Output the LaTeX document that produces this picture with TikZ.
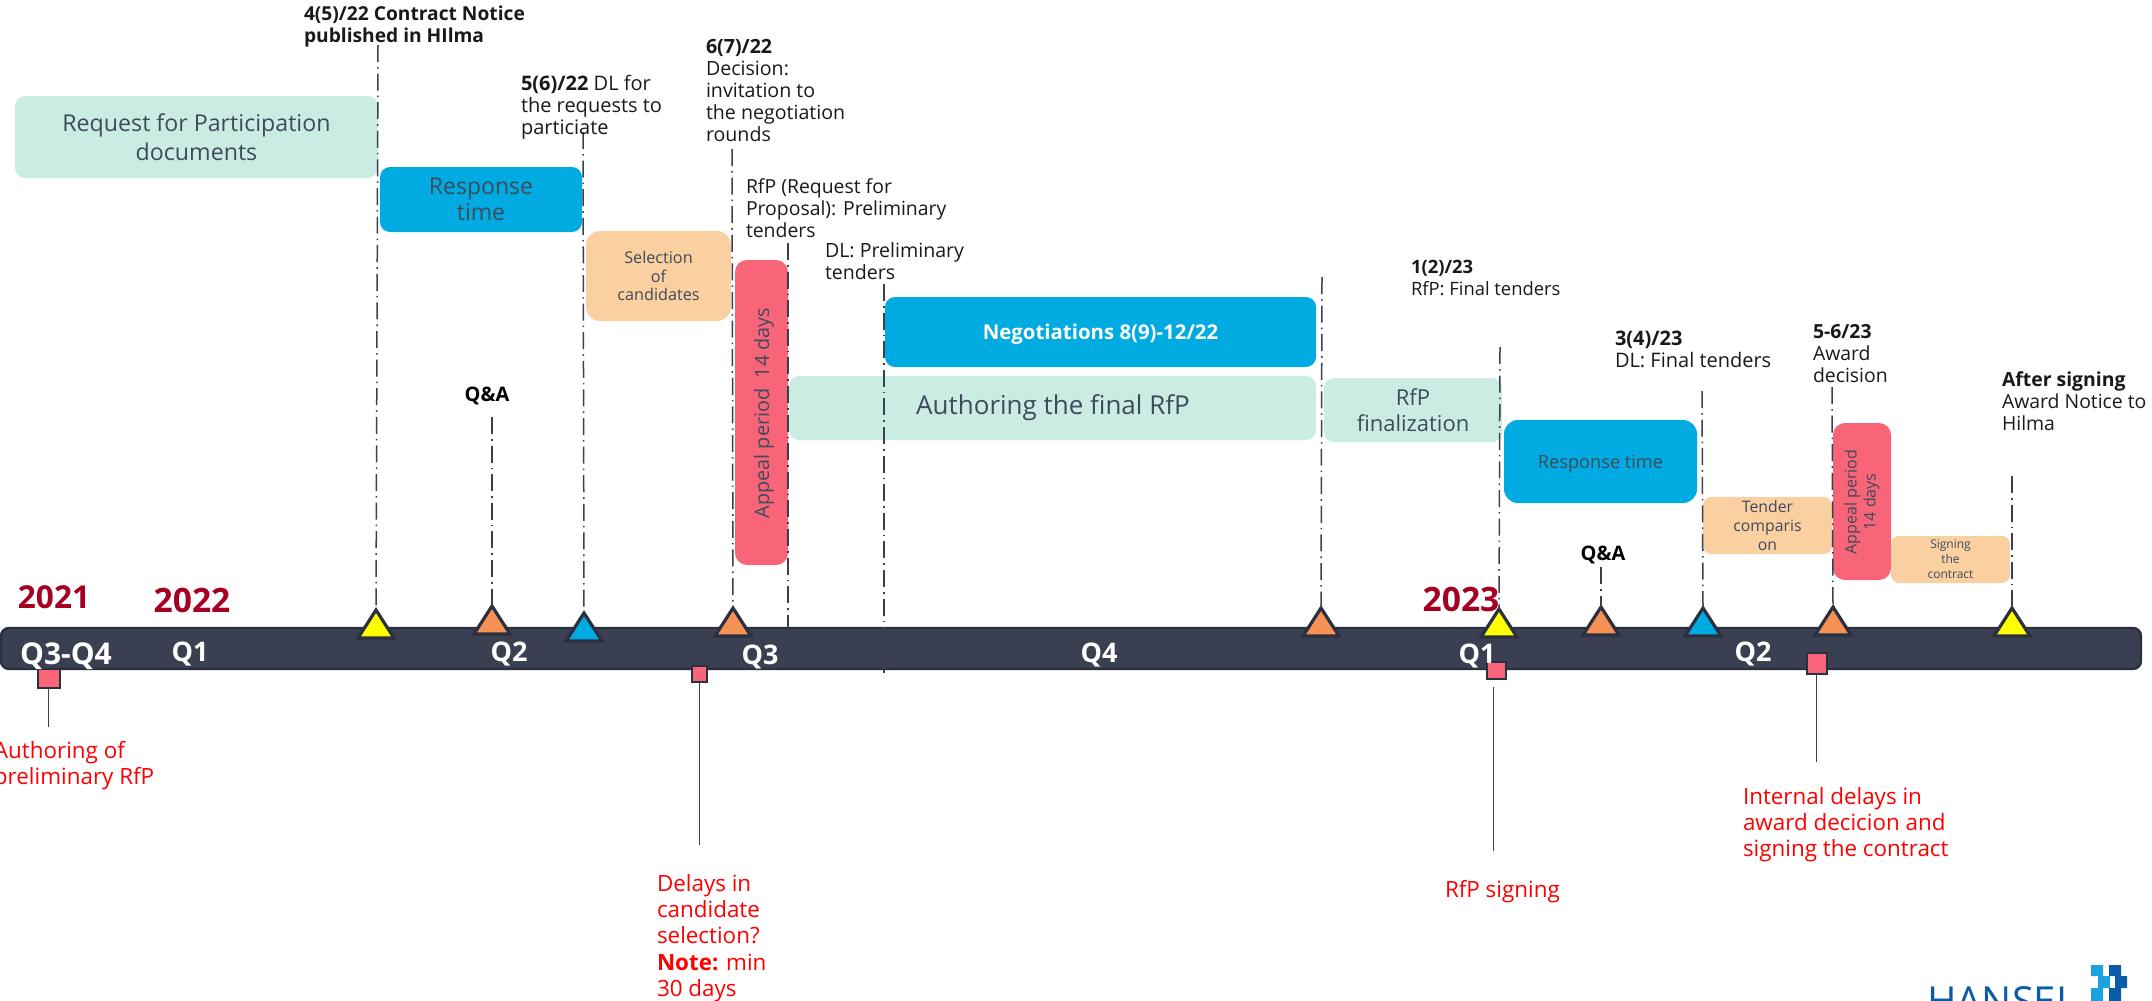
\documentclass[tikz,border=0pt]{standalone}
\usepackage{fontspec}
\setmainfont{Open Sans}
\usetikzlibrary{shapes.geometric}
\definecolor{barc}{HTML}{3A4052}
\definecolor{barb}{HTML}{2B3040}
\definecolor{mintc}{HTML}{CBECE2}
\definecolor{bluec}{HTML}{00ABE1}
\definecolor{peachc}{HTML}{FBD0A0}
\definecolor{pinkc}{HTML}{F86478}
\definecolor{orangec}{HTML}{F79256}
\definecolor{yellowc}{HTML}{FFFF00}
\definecolor{boxtext}{HTML}{3F4A5C}
\definecolor{yearc}{HTML}{A50021}
\definecolor{logod}{HTML}{0B5CA8}
\definecolor{logol}{HTML}{1BA3E0}
\tikzset{
  tl/.style={inner sep=0pt,outer sep=0pt},
  rbox/.style={tl,align=center,text=boxtext,rounded corners=5pt},
  mintbox/.style={rbox,fill=mintc},
  bluebox/.style={rbox,fill=bluec},
  peachbox/.style={rbox,fill=peachc,rounded corners=7pt},
  pinkbox/.style={rbox,fill=pinkc,rounded corners=6pt},
  mile/.style={draw=barc,line width=0.75pt,dash pattern=on 8.5pt off 2.5pt on 0.8pt off 2.5pt},
  tri/.style={isosceles triangle,isosceles triangle apex angle=70,shape border rotate=90,draw=barb,line width=1.6pt,inner sep=0pt,outer sep=0pt,anchor=apex,minimum height=14pt,minimum width=18pt,isosceles triangle stretches},
  sq/.style={draw=barb,line width=1.2pt,fill=pinkc,inner sep=0pt,outer sep=0pt},
  stem/.style={draw=barc,line width=0.5pt},
  toplabel/.style={tl,align=left,anchor=north west,font=\fontsize{#1}{11}\selectfont,text=black!90},
  redlabel/.style={tl,align=left,anchor=north west,font=\fontsize{11.2}{13.2}\selectfont,text=red},
  year/.style={tl,font=\bfseries\fontsize{#1}{#1}\selectfont,text=yearc},
  qlabel/.style={tl,font=\bfseries\fontsize{#1}{#1}\selectfont,text=white},
  qa/.style={tl,font=\bfseries\fontsize{10}{10}\selectfont,text=black},
}
\newcommand{\pbox}[7]{\node[#2,minimum width={(#5-#3)*0.5pt},minimum height={(#6-#4)*0.5pt}] (#1) at ({(#3+#5)/2},{(#4+#6)/2}) {#7};}
\begin{document}
\begin{tikzpicture}[x=0.5pt,y=-0.5pt]
\useasboundingbox (0,0) rectangle (2152,1001);
% bar
\pbox{bar}{tl,fill=barc,draw=barb,line width=1.2pt,rounded corners=4pt}{1}{628}{2141}{669}{}
% boxes
\pbox{req}{mintbox,font=\fontsize{11.6}{14.5}\selectfont}{15}{96}{378}{178}{Request for Participation\\documents}
\pbox{resp}{bluebox,font=\fontsize{11.5}{13}\selectfont}{380}{167}{582}{232}{Response\\time}
\pbox{sel}{peachbox,font=\fontsize{8.1}{9.4}\selectfont}{586}{231}{731}{321}{Selection\\of\\candidates}
\pbox{app}{pinkbox}{735}{260}{788}{565}{}
\pbox{neg}{bluebox,text=white,text depth=0pt,font=\bfseries\fontsize{10.2}{11}\selectfont}{885}{297}{1316}{367}{Negotiations 8(9)-12/22}
\pbox{auth}{mintbox}{789}{376}{1316}{440}{}
\pbox{final}{mintbox,font=\fontsize{11}{13.3}\selectfont}{1324}{378}{1502}{442}{RfP\\finalization}
\pbox{resp2}{bluebox,rounded corners=7pt,text depth=0pt,font=\fontsize{9.1}{10}\selectfont}{1504}{420}{1697}{503}{Response time}
\pbox{tender}{peachbox,rounded corners=4pt,font=\fontsize{7.9}{9.4}\selectfont}{1703}{497}{1832}{554}{Tender\\comparis\\on}
\pbox{app2}{pinkbox}{1833}{423}{1891}{580}{}
\pbox{sign}{peachbox,rounded corners=4pt,font=\fontsize{6}{7.5}\selectfont}{1891}{536}{2010}{583}{Signing\\the\\contract}
% triangles
\node[tri,fill=yellowc] (t1) at (376,610) {};
\node[tri,fill=orangec] (t2) at (492,606) {};
\node[tri,fill=bluec] (t3) at (584,613) {};
\node[tri,fill=orangec] (t4) at (733,608) {};
\node[tri,fill=orangec] (t5) at (1321,608) {};
\node[tri,fill=yellowc] (t6) at (1499,609) {};
\node[tri,fill=orangec] (t7) at (1601,607) {};
\node[tri,fill=bluec] (t8) at (1703,608) {};
\node[tri,fill=orangec] (t9) at (1833,607) {};
\node[tri,fill=yellowc] (t10) at (2012,608) {};
% milestone lines
\coordinate (m1) at (378,45);
\coordinate (m2) at (492,417);
\coordinate (m3) at (583,132);
\coordinate (m4) at (732,149);
\coordinate (m5) at (788,243);
\coordinate (m5b) at (788,628);
\coordinate (m6) at (884,284);
\coordinate (m6b) at (884,673);
\coordinate (m7) at (1322,277);
\coordinate (m8) at (1500,347);
\coordinate (m9) at (1601,567);
\coordinate (m10) at (1702,391);
\coordinate (m11) at (1832,387);
\coordinate (m12) at (2012,476);
\draw[mile] (m1) -- (t1.apex);
\draw[mile] (m2) -- (t2.apex);
\draw[mile] (m3) -- (t3.apex);
\draw[mile] (m4) -- (t4.apex);
\draw[mile] (m5) -- (m5b);
\draw[mile] (m6) -- (m6b);
\draw[mile] (m7) -- (t5.apex);
\draw[mile] (m8) -- (t6.apex);
\draw[mile] (m9) -- (t7.apex);
\draw[mile] (m10) -- (t8.apex);
\draw[mile] (m11) -- (t9.apex);
\draw[mile] (m12) -- (t10.apex);
% box texts drawn over the lines
\node[tl,rotate=90,text=boxtext,font=\fontsize{9.9}{11}\selectfont] (appt) at (764,413) {Appeal period\ \ 14 days};
\node[tl,rotate=90,text=boxtext,align=center,font=\fontsize{8}{9.5}\selectfont] (app2t) at (1862,502) {Appeal period\\14 days};
\node[tl,text=boxtext,font=\fontsize{13}{14}\selectfont] (autht) at (1053,408) {Authoring the final RfP};
% pink squares
\pbox{s1}{sq}{38}{669}{60}{688}{}
\pbox{s2}{sq}{692}{666}{707}{682}{}
\pbox{s3}{sq}{1487}{662}{1506}{679}{}
\pbox{s4}{sq}{1807}{653}{1827}{674}{}
\coordinate (e1) at (48,727);
\coordinate (e2) at (699,845);
\coordinate (e3a) at (1493,687);
\coordinate (e3b) at (1493,851);
\coordinate (e4) at (1816,762);
\draw[stem] (s1.south -| e1) -- (e1);
\draw[stem] (s2.south -| e2) -- (e2);
\draw[stem] (e3a) -- (e3b);
\draw[stem] (s4.south -| e4) -- (e4);
% years and quarters
\node[year=15.8] (y21) at (54,597) {2021};
\node[year=16.8] (y22) at (192,600) {2022};
\node[year=16.8] (y23) at (1461,599) {2023};
\node[qlabel=15] (q1) at (66,656) {Q3-Q4};
\node[qlabel=13.5] (q2) at (190,654) {Q1};
\node[qlabel=13.5] (q3) at (509,654) {Q2};
\node[qlabel=13.5] (q4) at (760,657) {Q3};
\node[qlabel=13.5] (q5) at (1099,655) {Q4};
\node[qlabel=13.5] (q6) at (1477,656) {Q1};
\node[qlabel=13.5] (q7) at (1753,654) {Q2};
% top labels
\node[toplabel=9.6] (l1) at (304,6) {\textbf{4(5)/22 Contract Notice}\\\textbf{published in HIlma}};
\node[toplabel=10] (l2) at (521,75) {\textbf{5(6)/22} DL for\\the requests to\\particiate};
\node[toplabel=9.8] (l3) at (706,39) {\textbf{6(7)/22}\\Decision:\\invitation to\\the negotiation\\rounds};
\node[toplabel=9.7] (l4) at (746,179) {RfP (Request for\\Proposal): Preliminary\\tenders};
\node[toplabel=9.8] (l5) at (825,243) {DL: Preliminary\\tenders};
\node[toplabel=9.2] (l6) at (1411,260) {\textbf{1(2)/23}\\RfP: Final tenders};
\node[toplabel=10] (l7) at (1615,331) {\textbf{3(4)/23}\\DL: Final tenders};
\node[toplabel=9.7] (l8) at (1813,324) {\textbf{5-6/23}\\Award\\decision};
\node[toplabel=9.7] (l9) at (2002,372) {\textbf{After signing}\\Award Notice to\\Hilma};
\node[qa] (qa1) at (487,396) {Q\&A};
\node[qa] (qa2) at (1603,555) {Q\&A};
% red labels
\node[redlabel] (r1) at (-6,741) {Authoring of\\preliminary RfP};
\node[redlabel] (r2) at (657,874) {Delays in\\candidate\\selection?\\\textbf{Note:} min\\30 days};
\node[redlabel] (r3) at (1445,880) {RfP signing};
\node[redlabel] (r4) at (1743,787) {Internal delays in\\award decicion and\\signing the contract};
% logo
\node[tl,anchor=base west,text=logod,font=\fontsize{20}{20}\selectfont] (logo) at (1927,1015) {HANSEL};
\fill[logol] (2091,965) rectangle (2103,976) (2098,976) rectangle (2110,988) (2091,988) rectangle (2103,1001);
\fill[logod] (2109,965) rectangle (2121,976) (2115,976) rectangle (2127,988) (2109,988) rectangle (2121,1001);
\end{tikzpicture}
\end{document}
